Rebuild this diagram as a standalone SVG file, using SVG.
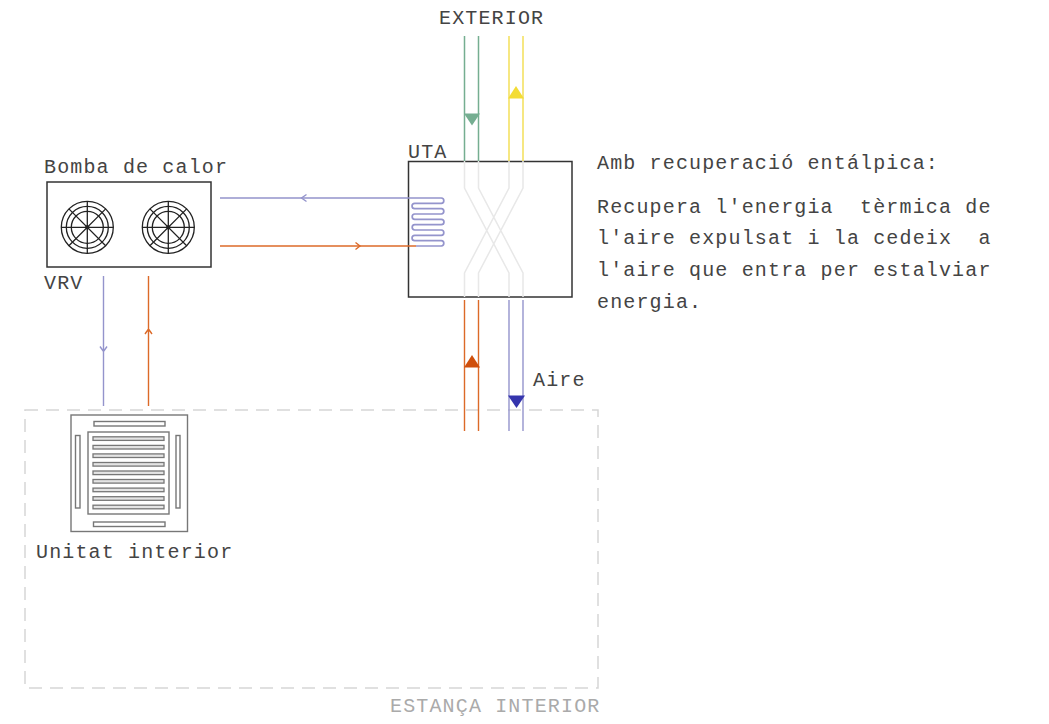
<svg xmlns="http://www.w3.org/2000/svg" width="1049" height="724" viewBox="0 0 1049 724">
<style>
text{font-family:"Liberation Mono",monospace;font-size:20px;letter-spacing:1.15px;fill:#444}
.box{fill:#fff;stroke:#333;stroke-width:1.5}
.fan{fill:none;stroke:#222;stroke-width:1.3}
.cas{fill:#fff;stroke:#777;stroke-width:1.4}
.slat{fill:#e4e4e4;stroke:#777;stroke-width:1.3}
.p{fill:none;stroke:#9494cc;stroke-width:1.4}
.o{fill:none;stroke:#dc6a28;stroke-width:1.4}
.g{fill:none;stroke:#75ae91;stroke-width:1.5}
.y{fill:none;stroke:#f3e05a;stroke-width:1.5}
.x{fill:none;stroke:#e8e8e8;stroke-width:1.5}
</style>
<defs>
<g id="fanicon" class="fan">
<circle r="26"/><circle r="21"/><circle r="16"/>
<path d="M-26 0H26M0-26V26M-18.400-18.400L18.400 18.400M-18.400 18.400L18.400-18.400"/>
<circle r="1.500" fill="#222"/>
</g>
</defs>
<g id="estanca">
<rect x="25" y="410" width="573" height="278" fill="none" stroke="#d6d6d6" stroke-width="1.500" stroke-dasharray="13 8"/>
<text x="390" y="712" style="fill:#aaa">ESTANÇA INTERIOR</text>
</g>
<g id="bomba">
<rect class="box" x="47" y="182" width="164" height="85"/>
<use href="#fanicon" x="87.300" y="227.300"/>
<use href="#fanicon" x="168.300" y="227.300"/>
<text x="44" y="173">Bomba de calor</text>
<text x="44" y="289">VRV</text>
</g>
<g id="uta">
<rect class="box" x="408.500" y="161.500" width="163.500" height="135.500"/>
<text x="408" y="158">UTA</text>
</g>
<g id="connectors">
<path class="x" d="M464.500 161V188L509 273V297M478.500 161V188L523 273V297M509 161V188L464.500 273V297M523 161V188L478.500 273V297"/>
<path class="g" d="M464.500 36V161M478.500 36V161"/>
<path class="y" d="M509 36V161M523 36V161"/>
<path d="M464 113.500H480L472 125.500Z" fill="#75ae91"/>
<path d="M508 98.500H524L516 86Z" fill="#f3dc35"/>
<path class="o" d="M464.500 300V431M478.500 300V431"/>
<path class="p" d="M509 300V431M523 300V431"/>
<path d="M464 367.500H480L472 355Z" fill="#cf4f0c"/>
<path d="M508 395.500H525L516.500 408Z" fill="#3535ad"/>
<path class="p" style="stroke-width:1.700" d="M220 198H441.300A2.670 2.670 0 0 1 441.300 203.330H414.700A2.670 2.670 0 0 0 414.700 208.670H441.300A2.670 2.670 0 0 1 441.300 214H414.700A2.670 2.670 0 0 0 414.700 219.330H441.300A2.670 2.670 0 0 1 441.300 224.670H414.700A2.670 2.670 0 0 0 414.700 230H441.300A2.670 2.670 0 0 1 441.300 235.330H414.700A2.670 2.670 0 0 0 414.700 240.670H441.300A2.670 2.670 0 0 1 441.300 246H416"/>
<path class="o" d="M220 246H416"/>
<path class="p" d="M306.500 194.500L301.500 198L306.500 201.500"/>
<path class="o" d="M355.500 242.500L360 246L355.500 249.500"/>
<path class="p" d="M103.500 276V406M100 346.500L103.500 351.500L107 346.500"/>
<path class="o" d="M148.500 276V406M145 334L148.500 329L152 334"/>
</g>
<g id="unitat">
<rect class="cas" x="71" y="415" width="116.500" height="116.500"/>
<rect class="cas" x="88" y="432" width="81" height="82"/>
<rect class="cas" x="94" y="421.500" width="71" height="4.500"/>
<rect class="cas" x="93.500" y="522" width="71.500" height="4.500"/>
<rect class="cas" x="75.500" y="435.500" width="4.500" height="72.500"/>
<rect class="cas" x="176" y="435.500" width="4" height="72.500"/>
<rect class="slat" x="93" y="436.800" width="71" height="3.600"/>
<rect class="slat" x="93" y="445.400" width="71" height="3.600"/>
<rect class="slat" x="93" y="453.900" width="71" height="3.600"/>
<rect class="slat" x="93" y="462.500" width="71" height="3.600"/>
<rect class="slat" x="93" y="471" width="71" height="3.600"/>
<rect class="slat" x="93" y="479.500" width="71" height="3.600"/>
<rect class="slat" x="93" y="488.100" width="71" height="3.600"/>
<rect class="slat" x="93" y="496.700" width="71" height="3.600"/>
<rect class="slat" x="93" y="505.200" width="71" height="3.600"/>
<text x="36" y="558">Unitat interior</text>
</g>
<g id="labels">
<text x="439" y="24">EXTERIOR</text>
<text x="533" y="386">Aire</text>
<text x="597" y="169">Amb recuperació entálpica:</text>
<text x="597" y="213" xml:space="preserve">Recupera l'energia  tèrmica de</text>
<text x="597" y="244" xml:space="preserve">l'aire expulsat i la cedeix  a</text>
<text x="597" y="276">l'aire que entra per estalviar</text>
<text x="597" y="308">energia.</text>
</g>
</svg>
